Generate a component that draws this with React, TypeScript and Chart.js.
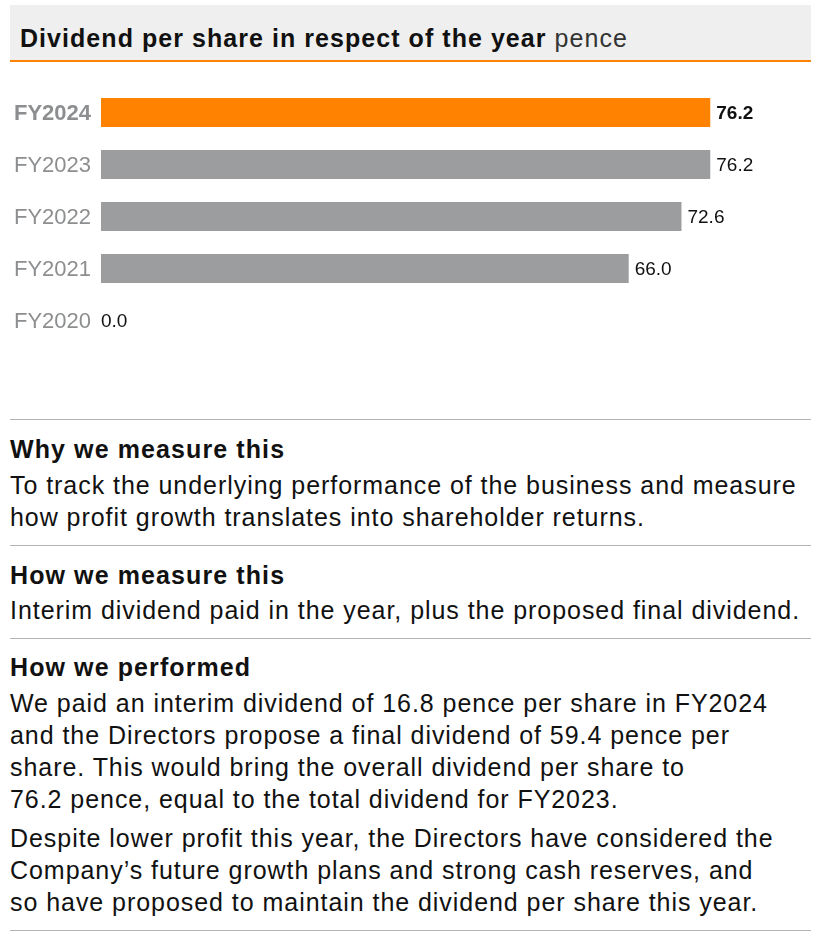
import React, { useEffect, useRef } from "react";
import { Chart, registerables } from "chart.js";

Chart.register(...registerables);

const categories = ["FY2024", "FY2023", "FY2022", "FY2021", "FY2020"];
const values = [76.2, 76.2, 72.6, 66.0, 0.0];
const highlight = [true, false, false, false, false];
const axisMax = 88.8;

const ORANGE = "#ff8200";
const GREY_BAR = "#9b9d9f";
const GREY_TEXT = "#8c8e90";
const FONT = "'Liberation Sans', Arial, Helvetica, sans-serif";

const valueLabelPlugin = {
  id: "valueLabels",
  afterDatasetsDraw(chart: any) {
    const ctx = chart.ctx;
    const meta = chart.getDatasetMeta(0);
    ctx.save();
    meta.data.forEach((bar: any, i: number) => {
      const v = values[i];
      ctx.font = `${highlight[i] ? "bold " : ""}19px ${FONT}`;
      ctx.fillStyle = "#111";
      ctx.textAlign = "left";
      ctx.textBaseline = "middle";
      ctx.fillText(v.toFixed(1), bar.x + (v > 0 ? 6 : 0), bar.y + 1);
    });
    ctx.restore();
  },
};

function BarChart() {
  const ref = useRef<HTMLCanvasElement>(null);
  useEffect(() => {
    if (!ref.current) return;
    const chart = new Chart(ref.current, {
      type: "bar",
      data: {
        labels: categories,
        datasets: [
          {
            data: values,
            backgroundColor: highlight.map((h) => (h ? ORANGE : GREY_BAR)),
            borderWidth: 0,
            barPercentage: 0.56,
            categoryPercentage: 1,
          },
        ],
      },
      options: {
        indexAxis: "y",
        animation: false,
        responsive: false,
        maintainAspectRatio: false,
        layout: { padding: { left: 14, right: 12, top: 16.5, bottom: 23.5 } },
        plugins: { legend: { display: false }, tooltip: { enabled: false } },
        scales: {
          x: { display: false, min: 0, max: axisMax },
          y: {
            grid: { display: false },
            border: { display: false },
            afterFit: (scale: any) => {
              scale.width = 87;
            },
            ticks: {
              crossAlign: "far",
              padding: 0,
              labelOffset: 1.5,
              color: GREY_TEXT,
              font: (ctx: any) => ({
                family: FONT,
                size: 22,
                weight: highlight[ctx.index] ? "bold" : "normal",
              }),
            },
          },
        },
      },
      plugins: [valueLabelPlugin],
    });
    return () => chart.destroy();
  }, []);
  return (
    <canvas
      ref={ref}
      width={823}
      height={300}
      style={{ position: "absolute", left: 0, top: 70, width: 823, height: 300 }}
    />
  );
}

const line = (top: number) => (
  <div style={{ position: "absolute", left: 10, width: 801, top, height: 1, background: "#b4b4b4" }} />
);

const text = (top: number, content: React.ReactNode, bold = false) => (
  <div
    style={{
      position: "absolute",
      left: 10,
      top,
      fontFamily: FONT,
      fontSize: 25,
      letterSpacing: bold ? "1.1px" : "0.95px",
      fontWeight: bold ? "bold" : "normal",
      lineHeight: "32px",
      color: "#111",
      whiteSpace: "nowrap",
    }}
  >
    {content}
  </div>
);

export default function App() {
  useEffect(() => {
    document.body.style.margin = "0";
  }, []);
  return (
    <div style={{ position: "relative", width: 823, height: 941, background: "#fff" }}>
      <div style={{ position: "absolute", left: 10, top: 5, width: 801, height: 55, background: "#eeefee" }} />
      <div style={{ position: "absolute", left: 10, top: 60, width: 801, height: 2, background: ORANGE }} />
      <div
        style={{
          position: "absolute",
          left: 20,
          top: 22,
          fontFamily: FONT,
          fontSize: 25,
          letterSpacing: "1.05px",
          lineHeight: "32px",
          color: "#111",
          whiteSpace: "nowrap",
        }}
      >
        <b>Dividend per share in respect of the year</b>
        <span style={{ color: "#333" }}> pence</span>
      </div>
      <BarChart />
      {line(419)}
      {text(433, "Why we measure this", true)}
      {text(469, <>To track the underlying performance of the business and measure<br />how profit growth translates into shareholder returns.</>)}
      {line(545)}
      {text(559, "How we measure this", true)}
      {text(594, "Interim dividend paid in the year, plus the proposed final dividend.")}
      {line(638)}
      {text(651, "How we performed", true)}
      {text(
        687,
        <>
          We paid an interim dividend of 16.8 pence per share in FY2024
          <br />
          and the Directors propose a final dividend of 59.4 pence per
          <br />
          share. This would bring the overall dividend per share to
          <br />
          76.2 pence, equal to the total dividend for FY2023.
        </>
      )}
      {text(
        822,
        <>
          Despite lower profit this year, the Directors have considered the
          <br />
          Company’s future growth plans and strong cash reserves, and
          <br />
          so have proposed to maintain the dividend per share this year.
        </>
      )}
      {line(930)}
    </div>
  );
}
